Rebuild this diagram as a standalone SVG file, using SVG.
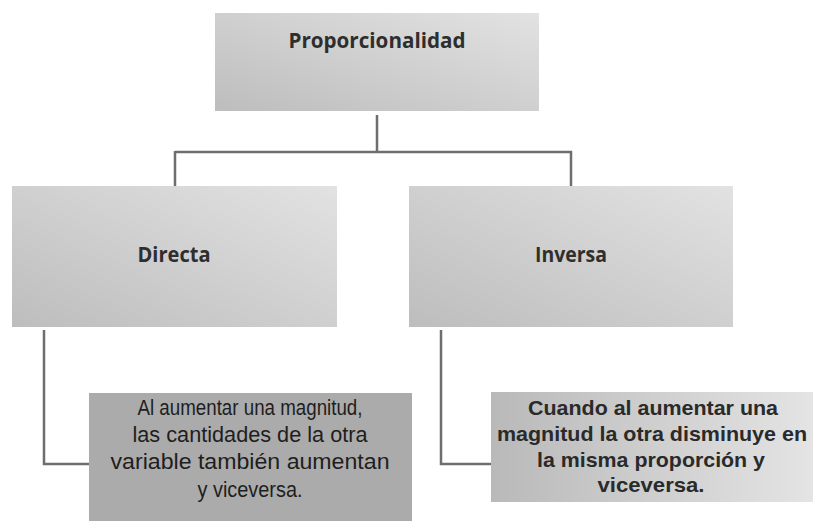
<svg xmlns="http://www.w3.org/2000/svg" width="813" height="521" viewBox="0 0 813 521">
<defs>
<linearGradient id="g1" x1="0" y1="1" x2="1" y2="0">
<stop offset="0" stop-color="#bdbdbd"/>
<stop offset="1" stop-color="#e2e2e2"/>
</linearGradient>
<linearGradient id="g2" x1="0" y1="0" x2="1" y2="0">
<stop offset="0" stop-color="#b9b9b9"/>
<stop offset="1" stop-color="#e4e4e4"/>
</linearGradient>
</defs>
<style>
.conn{fill:none;stroke:#6e6e6e;stroke-width:2.5}
.hd{font-family:"Open Sans","Liberation Sans",sans-serif;font-weight:bold;font-size:21px;fill:#2e2e2e;text-anchor:middle}
.nt{font-family:"Liberation Sans",sans-serif;font-size:22px;fill:#1e1e1e;text-anchor:middle}
.bt{font-family:"Liberation Sans",sans-serif;font-weight:bold;font-size:21px;fill:#2a2a2a;text-anchor:middle}
</style>
<rect width="813" height="521" fill="#ffffff"/>
<g id="connectors">
<path class="conn" d="M377 115 V152 M175 152 H572 M175 151 V186 M571 151 V186"/>
<path class="conn" d="M44 330 V464 H89"/>
<path class="conn" d="M441 330 V464 H491"/>
</g>
<g id="proporcionalidad">
<rect x="215" y="13" width="324" height="98" fill="url(#g1)"/>
<text class="hd" x="377" y="48" textLength="177" lengthAdjust="spacingAndGlyphs">Proporcionalidad</text>
</g>
<g id="directa">
<rect x="12" y="186" width="325" height="141" fill="url(#g1)"/>
<text class="hd" x="174" y="262" textLength="73" lengthAdjust="spacingAndGlyphs">Directa</text>
</g>
<g id="inversa">
<rect x="409" y="186" width="324" height="141" fill="url(#g1)"/>
<text class="hd" x="571" y="262" textLength="72" lengthAdjust="spacingAndGlyphs">Inversa</text>
</g>
<g id="desc-directa">
<rect x="89" y="393" width="323" height="128" fill="#ababab"/>
<text class="nt" x="250" y="415" textLength="225" lengthAdjust="spacingAndGlyphs">Al aumentar una magnitud,</text>
<text class="nt" x="250" y="442" textLength="235" lengthAdjust="spacingAndGlyphs">las cantidades de la otra</text>
<text class="nt" x="250" y="469" textLength="279" lengthAdjust="spacingAndGlyphs">variable también aumentan</text>
<text class="nt" x="250" y="497" textLength="105" lengthAdjust="spacingAndGlyphs">y viceversa.</text>
</g>
<g id="desc-inversa">
<rect x="491" y="392" width="322" height="110" fill="url(#g2)"/>
<text class="bt" x="653" y="415" textLength="250" lengthAdjust="spacingAndGlyphs">Cuando al aumentar una</text>
<text class="bt" x="652" y="441" textLength="310" lengthAdjust="spacingAndGlyphs">magnitud la otra disminuye en</text>
<text class="bt" x="651" y="467" textLength="228" lengthAdjust="spacingAndGlyphs">la misma proporción y</text>
<text class="bt" x="651" y="492" textLength="107" lengthAdjust="spacingAndGlyphs">viceversa.</text>
</g>
</svg>
